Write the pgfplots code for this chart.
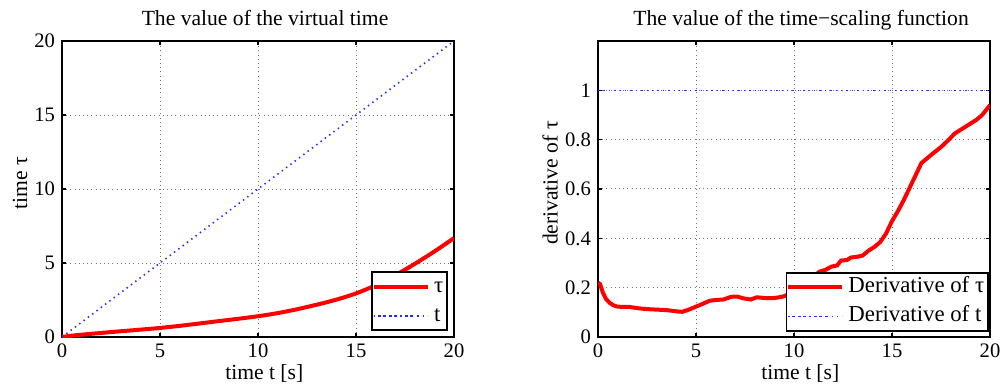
\documentclass[border=0pt]{standalone}
\usepackage{fontspec}
\setmainfont{Liberation Serif}
\usepackage{pgfplots}
\pgfplotsset{compat=1.18}
\pgfplotsset{
 common/.style={
  scale only axis, width=196pt, height=148pt,
  xmin=0, xmax=20, xtick={0,5,10,15,20},
  grid=major,
  major grid style={black!55, line width=0.5pt, dash pattern=on 0.5pt off 1.6pt},
  axis line style={black, line width=0.9pt},
  tick align=inside, tick pos=both,
  major tick length=2.2pt,
  every tick/.style={black, line width=0.6pt},
  /pgf/number format/assume math mode=true,
  tick label style={font=\fontsize{10.3}{12}\selectfont},
  label style={font=\fontsize{10.8}{13}\selectfont},
  every axis title shift=0pt,
  title style={font=\fontsize{10.8}{13}\selectfont, at={(axis description cs:0.518,1.054)}, anchor=base},
  xlabel style={at={(axis description cs:0.516,-0.142)}, anchor=base},
  legend cell align=left,
  legend style={font=\fontsize{11.4}{13}\selectfont, draw=black, line width=0.8pt, fill=white, inner sep=0pt, anchor=south east, at={(axis description cs:1,0)},
    nodes={inner sep=2pt, text height=8pt, text depth=2.5pt}},
  legend image code/.code={\draw[#1] (0pt,0pt) -- (17.5pt,0pt); \path (-2pt,0pt) -- (25pt,0pt);},
 },
 redline/.style={red, line width=2pt},
 blueline/.style={blue!85!white, line width=0.8pt, dash pattern=on 0.7pt off 2pt},
}
\begin{document}
\begin{tikzpicture}
\path[use as bounding box] (-31pt,-27pt) rectangle (472pt,168.5pt);
\begin{axis}[common, at={(0pt,0pt)},
  ymin=0, ymax=20, ytick={0,5,10,15,20},
  title={The value of the virtual time},
  xlabel={time t [s]}, ylabel={time τ},
  ylabel style={at={(axis description cs:-0.107,0.52)}, anchor=center},
  legend style={xshift=-3pt, yshift=3pt}]
\addplot[redline, smooth] table {
0 0
0.5 0.09
1 0.155
2 0.275
3 0.389
4 0.496
5 0.612
6 0.752
7 0.912
8 1.074
9 1.233
10 1.403
11 1.613
12 1.878
13 2.183
14 2.525
15 2.945
16 3.493
17 4.170
18 4.943
19 5.780
20 6.683
};
\addlegendentry{τ}
\addplot[blueline] coordinates {(0,0) (20,20)};
\addlegendentry{t}
\end{axis}
\begin{axis}[common, at={(268pt,0pt)},
  ymin=0, ymax=1.2, ytick={0,0.2,0.4,0.6,0.8,1},
  title={The value of the time\textminus scaling function},
  xlabel={time t [s]}, ylabel={derivative of τ},
  ylabel style={at={(axis description cs:-0.122,0.52)}, anchor=center},
  legend style={xshift=-0.5pt, yshift=2.7pt}]
\addplot[redline] table {
0 0.22
0.1 0.215
0.25 0.18
0.4 0.155
0.6 0.138
0.8 0.128
1.0 0.123
1.3 0.122
1.6 0.122
2.0 0.117
2.5 0.113
3.0 0.111
3.5 0.109
4.0 0.104
4.3 0.102
4.6 0.110
5.0 0.123
5.3 0.133
5.7 0.147
6.0 0.150
6.4 0.152
6.8 0.163
7.1 0.164
7.4 0.157
7.8 0.152
8.1 0.161
8.5 0.158
9.0 0.158
9.4 0.163
9.7 0.172
10.0 0.178
10.5 0.205
11.0 0.245
11.3 0.265
11.6 0.272
11.9 0.285
12.2 0.29
12.4 0.31
12.7 0.312
12.9 0.322
13.2 0.325
13.5 0.33
13.8 0.35
14.1 0.365
14.4 0.385
14.7 0.42
15.0 0.47
15.3 0.51
15.6 0.555
15.9 0.605
16.2 0.655
16.5 0.705
16.8 0.725
17.1 0.745
17.5 0.77
17.9 0.80
18.2 0.825
18.6 0.845
19.0 0.865
19.3 0.88
19.6 0.90
19.8 0.92
20.0 0.94
};
\addlegendentry{Derivative of τ}
\addplot[blueline] coordinates {(0,1) (20,1)};
\addlegendentry{Derivative of t}
\end{axis}
\end{tikzpicture}
\end{document}
